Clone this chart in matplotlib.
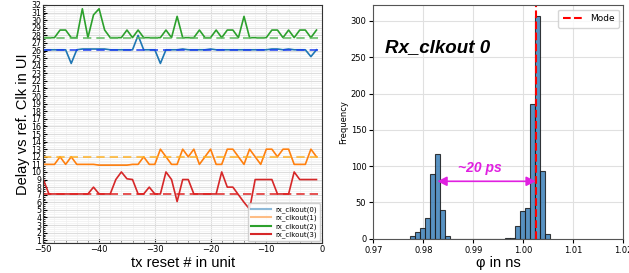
import numpy as np
import matplotlib
matplotlib.use("Agg")
import matplotlib.pyplot as plt
from matplotlib.ticker import MultipleLocator
from matplotlib.lines import Line2D

# ---------------- data ----------------
reset_idx = list(range(-50, 0))

clk0 = [26.1, 26.1, 26.1, 26.1, 26.1, 24.3, 26.1, 26.2, 26.2, 26.2,
        26.2, 26.2, 26.1, 26.1, 26.1, 26.1, 26.1, 28.0, 26.1, 26.1,
        26.1, 24.3, 26.1, 26.1, 26.1, 26.2, 26.1, 26.1, 26.1, 26.1,
        26.2, 26.1, 26.1, 26.1, 26.1, 26.1, 26.1, 26.1, 26.1, 26.1,
        26.1, 26.2, 26.2, 26.1, 26.2, 26.1, 26.1, 26.1, 25.2, 26.1]
clk1 = [11.0, 11.0, 11.0, 12.0, 11.0, 12.0, 11.0, 11.0, 11.0, 11.0,
        10.9, 10.9, 10.9, 10.9, 10.9, 10.9, 11.0, 11.0, 12.0, 11.0,
        11.0, 13.0, 12.0, 11.0, 11.0, 13.0, 12.0, 13.0, 11.0, 12.0,
        13.0, 11.0, 11.0, 13.0, 13.0, 12.0, 11.0, 13.0, 12.0, 11.0,
        13.0, 13.0, 12.0, 13.0, 13.0, 11.0, 11.0, 11.0, 13.0, 12.0]
clk2 = [27.7, 27.7, 27.7, 28.7, 28.7, 27.7, 27.7, 31.5, 27.7, 30.7,
        31.5, 28.7, 27.7, 27.7, 27.7, 28.7, 27.7, 28.7, 27.7, 27.7,
        27.7, 27.7, 28.7, 27.7, 30.5, 27.7, 27.7, 27.7, 28.7, 27.7,
        27.7, 28.7, 27.7, 28.7, 28.7, 27.7, 30.5, 27.7, 27.7, 27.7,
        27.7, 28.7, 28.7, 27.7, 28.7, 27.7, 28.7, 28.7, 27.7, 28.7]
clk3 = [9.0, 7.1, 7.1, 7.1, 7.1, 7.1, 7.1, 7.1, 7.1, 8.0,
        7.1, 7.1, 7.1, 9.0, 10.0, 9.1, 9.0, 7.1, 7.1, 8.0,
        7.1, 7.1, 10.0, 9.0, 6.1, 9.0, 9.0, 7.1, 7.1, 7.1,
        7.1, 7.1, 10.0, 8.0, 8.0, 7.0, 6.0, 5.1, 9.0, 9.0,
        9.0, 9.0, 7.1, 7.1, 7.1, 10.0, 9.0, 9.0, 9.0, 9.0]
ref_levels = [26.1, 12.0, 27.7, 7.1]
series_names = ["rx_clkout(0)", "rx_clkout(1)", "rx_clkout(2)", "rx_clkout(3)"]

bin_edges_left = [0.9774 + 0.001 * k for k in range(28)]
bin_counts = [3, 9, 14, 28, 89, 117, 40, 3,
              0, 0, 0, 0, 0, 0, 0, 0, 0, 0, 0,
              1, 1, 17, 38, 42, 186, 307, 93, 7]
bin_width = 0.001
mode_value = 1.0025
gap_text = "~20 ps"
gap_from, gap_to, gap_y = 0.9828, 1.0025, 79

LAB = ["Liberation Sans", "DejaVu Sans"]

# ---------------- figure ----------------
fig = plt.figure(figsize=(6.29, 2.73), dpi=100)

# ---- left panel ----
axl = fig.add_axes([0.0689, 0.1088, 0.4431, 0.8729])
colors = ["#1f77b4", "#ff7f0e", "#2ca02c", "#d62728"]
ref_colors = ["#1a3cf0", "#ffb020", "#5cb85c", "#e02020"]
for vals, c in zip([clk0, clk1, clk2, clk3], colors):
    axl.plot(reset_idx, vals, color=c, lw=1.2)
for lvl, c in zip(ref_levels, ref_colors):
    axl.axhline(lvl, color=c, ls=(0, (5, 3)), lw=1.2, alpha=0.9)
axl.set_xlim(-50, 0)
axl.set_ylim(0.6, 32)
axl.yaxis.set_major_locator(MultipleLocator(1))
axl.yaxis.set_minor_locator(MultipleLocator(0.25))
axl.xaxis.set_major_locator(MultipleLocator(10))
axl.xaxis.set_minor_locator(MultipleLocator(2))
axl.grid(True, which="major", color="#dddddd", lw=0.8)
axl.grid(True, which="minor", color="#f0f0f0", lw=0.5)
axl.tick_params(which="both", direction="in")
axl.tick_params(axis="y", which="major", labelsize=5.7, length=3, pad=1.5)
axl.tick_params(axis="x", which="major", labelsize=6, length=3, pad=1.5)
axl.tick_params(which="minor", length=1.5)
axl.set_xlabel("tx reset # in unit", fontsize=10.5, family=LAB, labelpad=1)
axl.set_ylabel("Delay vs ref. Clk in UI", fontsize=10.5, family=LAB,
               labelpad=1)
handles = [Line2D([], [], color=c, lw=1.5, alpha=a)
           for c, a in zip(colors, [0.5, 0.5, 1, 1])]
axl.legend(handles, series_names, loc="lower right", fontsize=5,
           handlelength=3.0, borderpad=0.4, labelspacing=0.25,
           handletextpad=0.6, framealpha=0.9, borderaxespad=0.3)
for s in axl.spines.values():
    s.set_color("#333333")

# ---- right panel ----
axr = fig.add_axes([0.5935, 0.126, 0.3975, 0.8557])
axr.bar(bin_edges_left, bin_counts, width=bin_width, align="edge",
        color="#3b7fb8", alpha=0.85, edgecolor="#1a1a1a", lw=0.8)
axr.axvline(mode_value, color="red", ls="--", lw=1.5, label="Mode")
axr.set_xlim(0.97, 1.02)
axr.set_ylim(0, 322)
axr.xaxis.set_major_locator(MultipleLocator(0.01))
axr.yaxis.set_major_locator(MultipleLocator(50))
axr.grid(True, color="#e0e0e0", lw=0.8)
axr.set_axisbelow(True)
axr.tick_params(labelsize=6, length=3, pad=2)
axr.set_xlabel("φ in ns", fontsize=10.5, family=LAB, labelpad=1)
axr.set_ylabel("Frequency", fontsize=6, labelpad=2)
axr.legend(loc="upper right", fontsize=6.5, handlelength=2.2,
           borderpad=0.5)
axr.text(0.9723, 264, "Rx_clkout 0", fontsize=13.5, fontweight="bold",
         style="italic", va="center", ha="left", family=LAB)
axr.annotate("", xy=(gap_from, gap_y), xytext=(gap_to, gap_y),
             arrowprops=dict(arrowstyle="<|-|>", color="#e020e0", lw=1.2,
                             mutation_scale=14, shrinkA=0, shrinkB=0))
axr.text(0.9913, 98, gap_text, fontsize=10, fontweight="bold",
         style="italic", color="#e020e0", ha="center", va="center",
         family=LAB)
for s in axr.spines.values():
    s.set_color("#555555")

fig.savefig("out.png", dpi=100)
